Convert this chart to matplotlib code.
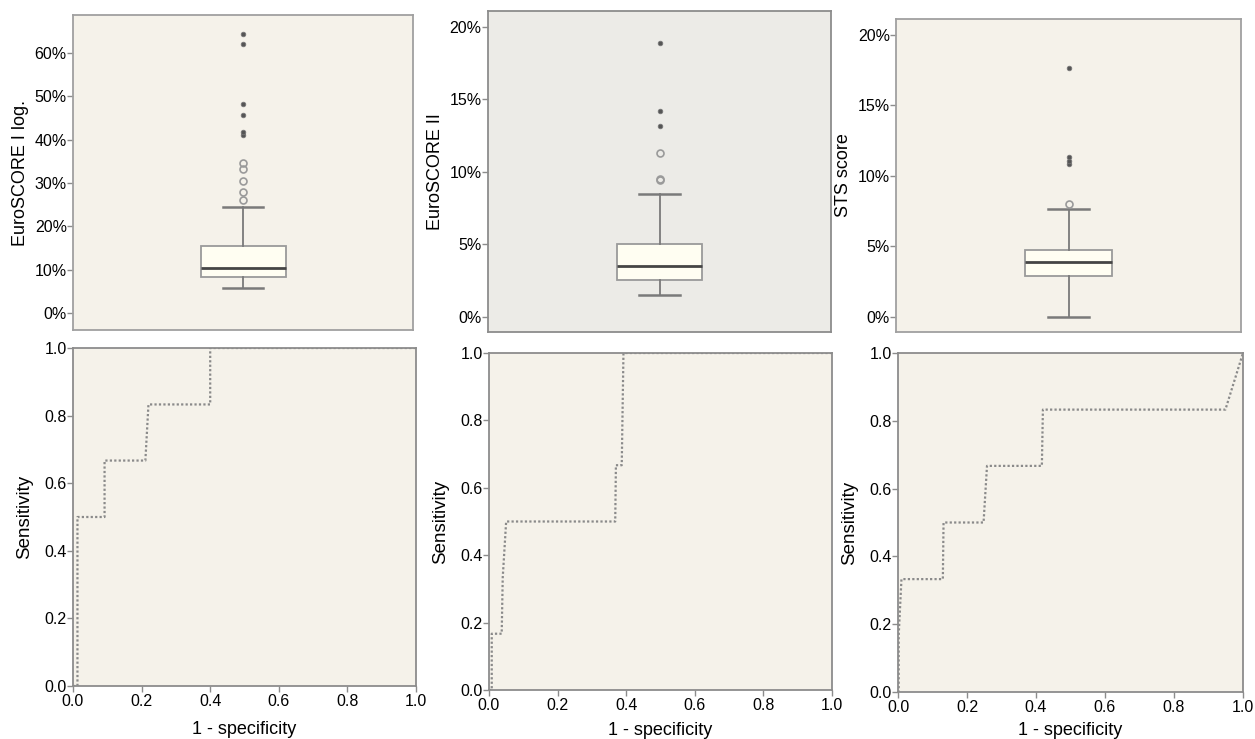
import matplotlib
matplotlib.use("Agg")
import matplotlib.pyplot as plt
from matplotlib.ticker import FuncFormatter

plt.rcParams['font.family'] = ['Liberation Sans', 'DejaVu Sans']

# ---------------- data ----------------
box_labels = ["EuroSCORE I log.", "EuroSCORE II", "STS score"]

# box statistics (percent)
es1_stats = dict(whislo=5.8, q1=8.3, med=10.4, q3=15.4, whishi=24.5)
es2_stats = dict(whislo=1.5, q1=2.5, med=3.5, q3=5.0, whishi=8.45)
sts_stats = dict(whislo=0.0, q1=2.85, med=3.9, q3=4.75, whishi=7.6)

# mild outliers (circles) and extreme values (stars)
es1_circles = [26.2, 27.9, 30.5, 33.2, 34.6]
es1_stars = [41.1, 41.7, 45.7, 48.2, 62.0, 64.5]
es2_circles = [9.4, 9.5, 11.3]
es2_stars = [13.15, 14.2, 18.85]
sts_circles = [7.95]
sts_stars = [10.8, 11.0, 11.3, 17.6]

es1_yticks = [0, 10, 20, 30, 40, 50, 60]
es2_yticks = [0, 5, 10, 15, 20]
sts_yticks = [0, 5, 10, 15, 20]

# ROC curves (1 - specificity, sensitivity)
roc1_x = [0.0, 0.013, 0.013, 0.092, 0.092, 0.211, 0.220, 0.400, 0.400, 1.0]
roc1_y = [0.0, 0.0, 0.5, 0.5, 0.667, 0.667, 0.833, 0.833, 1.0, 1.0]

roc2_x = [0.0, 0.008, 0.008, 0.037, 0.040, 0.050, 0.368, 0.370, 0.387, 0.392, 1.0]
roc2_y = [0.0, 0.0, 0.167, 0.167, 0.333, 0.5, 0.5, 0.667, 0.667, 1.0, 1.0]

roc3_x = [0.0, 0.002, 0.002, 0.010, 0.130, 0.132, 0.248, 0.258, 0.417, 0.420, 0.949, 1.0]
roc3_y = [0.0, 0.0, 0.167, 0.333, 0.333, 0.5, 0.5, 0.667, 0.667, 0.833, 0.833, 1.0]

roc_ticks = [0.0, 0.2, 0.4, 0.6, 0.8, 1.0]

# ---------------- style ----------------
BG = "#f5f2ea"
BG_MID = "#ecebe7"
SPINE = "#8c8c8c"
BOXEDGE = "#9a9a9a"
MEDIAN = "#454545"
ROC_COLOR = "#8a8a8a"

fig = plt.figure(figsize=(12.55, 7.39), dpi=100)
fig.patch.set_facecolor("white")

W, H = 1255.0, 739.0


def add_axes(left, top, right, bottom):
    return fig.add_axes([left / W, 1 - bottom / H, (right - left) / W, (bottom - top) / H])


def style_axes(ax, bg, spine=SPINE):
    ax.set_facecolor(bg)
    for s in ax.spines.values():
        s.set_color(spine)
        s.set_linewidth(1.3)
    ax.tick_params(axis="both", colors=SPINE, labelcolor="black", labelsize=11.5,
                   length=4, width=1.0, direction="out")
    ax.tick_params(axis="y", pad=0.5)
    ax.tick_params(axis="x", pad=2)


pct = FuncFormatter(lambda v, p: f"{v:g}%")


def draw_box(ax, stats, circles, stars, yticks, ylim, label, bg, spine=SPINE):
    style_axes(ax, bg, spine)
    st = dict(stats)
    st["fliers"] = []
    ax.bxp([st], positions=[1], widths=0.5, showfliers=False, patch_artist=True,
           boxprops=dict(facecolor="#fffef2", edgecolor=BOXEDGE, linewidth=1.3),
           whiskerprops=dict(color="#7a7a7a", linewidth=1.3),
           capprops=dict(color="#7a7a7a", linewidth=1.8),
           medianprops=dict(color=MEDIAN, linewidth=2.0),
           capwidths=0.24)
    ax.plot([1] * len(circles), circles, linestyle="none", marker="o", ms=5,
            mfc="none", mec="#9a9a9a", mew=1.2)
    ax.plot([1] * len(stars), stars, linestyle="none", marker="o", ms=3.3,
            mfc="#555555", mec="#777777", mew=0.6)
    ax.set_xlim(0, 2)
    ax.set_ylim(*ylim)
    ax.set_xticks([])
    ax.set_yticks(yticks)
    ax.yaxis.set_major_formatter(pct)
    ax.set_ylabel(label, fontsize=13, labelpad=4)


def draw_roc(ax, xs, ys, xpad):
    style_axes(ax, BG)
    ax.plot(xs, ys, color=ROC_COLOR, linewidth=1.6, linestyle=(0, (1, 1)))
    ax.set_xlim(0, 1)
    ax.set_ylim(0, 1)
    ax.set_xticks(roc_ticks)
    ax.set_yticks(roc_ticks)
    ax.xaxis.set_major_formatter(FuncFormatter(lambda v, p: f"{v:.1f}"))
    ax.yaxis.set_major_formatter(FuncFormatter(lambda v, p: f"{v:.1f}"))
    ax.set_ylabel("Sensitivity", fontsize=13.5, labelpad=8)
    ax.set_xlabel("1 - specificity", fontsize=13, labelpad=xpad)


ax1 = add_axes(73, 15, 413, 330)
draw_box(ax1, es1_stats, es1_circles, es1_stars, es1_yticks, (-3.9, 68.8), box_labels[0], BG, "#a0a0a0")

ax2 = add_axes(488, 11, 831, 332)
draw_box(ax2, es2_stats, es2_circles, es2_stars, es2_yticks, (-1.06, 21.08), box_labels[1], BG_MID)

ax3 = add_axes(896, 19, 1241, 332)
draw_box(ax3, sts_stats, sts_circles, sts_stars, sts_yticks, (-1.09, 21.1), box_labels[2], BG, "#a0a0a0")

ax4 = add_axes(73, 348, 416, 686)
draw_roc(ax4, roc1_x, roc1_y, 8.5)

ax5 = add_axes(489, 353, 832, 690)
draw_roc(ax5, roc2_x, roc2_y, 6)

ax6 = add_axes(898, 353, 1243, 692)
draw_roc(ax6, roc3_x, roc3_y, 5)

fig.savefig("out.png", dpi=100, facecolor="white")
